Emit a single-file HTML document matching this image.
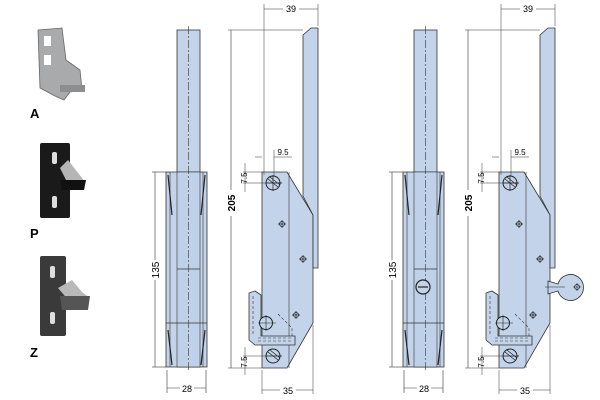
<!DOCTYPE html>
<html><head><style>
html,body{margin:0;padding:0;background:#fff;}
svg{display:block;}
text{font-family:"Liberation Sans",sans-serif;}
</style></head><body>
<svg width="600" height="400" viewBox="0 0 600 400" xmlns="http://www.w3.org/2000/svg">
<defs>
<g id="side">
  <!-- rod -->
  <rect x="177" y="30" width="23" height="337" fill="#c3d4ea" stroke="#333" stroke-width="0.8"/>
  <!-- housing -->
  <path d="M166,172 H207 V367 H166 Z" fill="#c3d4ea" stroke="#333" stroke-width="0.8"/>
  <rect x="177" y="172" width="23" height="195" fill="#bfd1e8" stroke="#333" stroke-width="0.6"/>
  <line x1="170" y1="172" x2="170" y2="367" stroke="#333" stroke-width="0.6"/>
  <line x1="203" y1="172" x2="203" y2="367" stroke="#333" stroke-width="0.6"/>
  <path d="M168,175 L172,215 M205,175 L201,215 M168,330 L172,365 M205,330 L201,365" stroke="#222" stroke-width="1.2"/>
  <line x1="166" y1="323" x2="207" y2="323" stroke="#333" stroke-width="0.8"/>
  <line x1="177" y1="269" x2="200" y2="269" stroke="#333" stroke-width="0.8"/>
  <line x1="188.5" y1="26" x2="188.5" y2="372" stroke="#333" stroke-width="0.6" stroke-dasharray="8,2,2,2"/>
  <!-- dim 135 -->
  <line x1="155" y1="172" x2="155" y2="367" stroke="#333" stroke-width="0.6"/>
  <line x1="152" y1="172" x2="166" y2="172" stroke="#333" stroke-width="0.6"/>
  <line x1="152" y1="367" x2="166" y2="367" stroke="#333" stroke-width="0.6"/>
  <rect x="150" y="260" width="10" height="20" fill="#fff"/>
  <text x="159" y="270" font-size="10" text-anchor="middle" transform="rotate(-90 159 270)">135</text>
  <!-- dim 28 -->
  <line x1="167" y1="370" x2="167" y2="393" stroke="#333" stroke-width="0.6"/>
  <line x1="206" y1="370" x2="206" y2="393" stroke="#333" stroke-width="0.6"/>
  <line x1="167" y1="388" x2="206" y2="388" stroke="#333" stroke-width="0.6"/>
  <rect x="180" y="382" width="14" height="11" fill="#fff"/>
  <text x="187" y="392" font-size="9" text-anchor="middle">28</text>
  <!-- plate -->
  <path d="M262,172 H287 L313,215 V323 L287,368 H262 Z" fill="#c3d4ea" stroke="#333" stroke-width="0.8"/>
  <line x1="289" y1="172" x2="289" y2="368" stroke="#333" stroke-width="0.6"/>
  <!-- arm -->
  <path d="M303,35 L311,28 H318 V268 H313 V215 L303,196 Z" fill="#c3d4ea" stroke="#333" stroke-width="0.8"/>
  <!-- hook -->
  <path d="M249,293 L255,291 L261,295 V336 H295 V345 H255 L249,340 Z" fill="#c3d4ea" stroke="#333" stroke-width="0.8"/>
  <path d="M253,296 V336 M258,338 H292 M258,341 H292 M278,314 L292,328 V336" stroke="#333" stroke-width="0.6" stroke-dasharray="3,2" fill="none"/>
  <!-- holes -->
  <circle cx="273" cy="183" r="7" fill="#c3d4ea" stroke="#222" stroke-width="1"/>
  <path d="M268,179 L278,187 M270,177 L280,185 M266,183 H282 M273,175 V191" stroke="#222" stroke-width="0.7"/>
  <circle cx="273" cy="356" r="7" fill="#c3d4ea" stroke="#222" stroke-width="1"/>
  <path d="M268,352 L278,360 M270,350 L280,358 M266,356 H282" stroke="#222" stroke-width="0.7"/>
  <circle cx="266" cy="323" r="6.5" fill="#c3d4ea" stroke="#222" stroke-width="1"/>
  <path d="M258,323 H276 M266,315 V331" stroke="#222" stroke-width="0.6"/>
  <g stroke="#222" stroke-width="0.7" fill="none">
    <circle cx="282" cy="224" r="2.5"/><path d="M278,224 H286 M282,220 V228"/>
    <circle cx="303" cy="259" r="2.5"/><path d="M299,259 H307 M303,255 V263"/>
    <circle cx="296" cy="315" r="2.5"/><path d="M292,315 H300 M296,311 V319"/>
  </g>
  <!-- dim 205 -->
  <line x1="231" y1="30" x2="231" y2="368" stroke="#333" stroke-width="0.6"/>
  <line x1="228" y1="30" x2="303" y2="30" stroke="#333" stroke-width="0.5"/>
  <line x1="228" y1="368" x2="262" y2="368" stroke="#333" stroke-width="0.5"/>
  <rect x="225" y="190" width="12" height="26" fill="#fff"/>
  <text x="235" y="203" font-size="10" font-weight="bold" text-anchor="middle" transform="rotate(-90 235 203)">205</text>
  <!-- dim 39 -->
  <line x1="264" y1="4" x2="264" y2="175" stroke="#333" stroke-width="0.5"/>
  <line x1="318" y1="4" x2="318" y2="26" stroke="#333" stroke-width="0.5"/>
  <line x1="264" y1="9" x2="318" y2="9" stroke="#333" stroke-width="0.6"/>
  <rect x="283" y="3" width="16" height="11" fill="#fff"/>
  <text x="291" y="12" font-size="9" text-anchor="middle">39</text>
  <!-- dim 9.5 -->
  <line x1="274" y1="150" x2="274" y2="176" stroke="#333" stroke-width="0.5"/>
  <line x1="255" y1="157" x2="262" y2="157" stroke="#333" stroke-width="0.5"/>
  <line x1="274" y1="157" x2="292" y2="157" stroke="#333" stroke-width="0.5"/>
  <text x="283" y="155" font-size="8" text-anchor="middle">9.5</text>
  <!-- dim 7.5 top -->
  <line x1="245" y1="163" x2="245" y2="192" stroke="#333" stroke-width="0.5"/>
  <line x1="243" y1="172" x2="262" y2="172" stroke="#333" stroke-width="0.5"/>
  <line x1="243" y1="183" x2="282" y2="183" stroke="#333" stroke-width="0.5"/>
  <text x="247" y="178" font-size="8" text-anchor="middle" transform="rotate(-90 247 178)">7.5</text>
  <!-- dim 7.5 bottom -->
  <line x1="245" y1="347" x2="245" y2="375" stroke="#333" stroke-width="0.5"/>
  <line x1="243" y1="356" x2="266" y2="356" stroke="#333" stroke-width="0.5"/>
  <text x="247" y="362" font-size="8" text-anchor="middle" transform="rotate(-90 247 362)">7.5</text>
  <!-- dim 35 -->
  <line x1="262" y1="370" x2="262" y2="394" stroke="#333" stroke-width="0.5"/>
  <line x1="313" y1="325" x2="313" y2="394" stroke="#333" stroke-width="0.5"/>
  <line x1="262" y1="390" x2="313" y2="390" stroke="#333" stroke-width="0.6"/>
  <rect x="280" y="384" width="16" height="11" fill="#fff"/>
  <text x="288" y="394" font-size="9" text-anchor="middle">35</text>
</g>
</defs>
<use href="#side"/>
<g transform="translate(237,0)">
  <use href="#side"/>
</g>
<!-- right variant extras -->
<circle cx="423" cy="287" r="7" fill="#c3d4ea" stroke="#222" stroke-width="1.2"/>
<path d="M418,287 H428" stroke="#222" stroke-width="1.2"/>
<path d="M548,281 L558,284 A13,13 0 1 1 558,291 L548,294 Z" fill="#c3d4ea" stroke="#333" stroke-width="0.8"/>
<circle cx="577" cy="287" r="2.5" fill="none" stroke="#222" stroke-width="0.7"/>
<path d="M573,287 H581 M577,283 V291 M545,287 H565" stroke="#222" stroke-width="0.6"/>
<!-- photos -->
<g>
  <path d="M38,30 L62,28 L66,60 L80,70 L82,90 L70,92 L64,100 L55,96 L40,88 Z" fill="#a9aaab" stroke="#666" stroke-width="0.8"/>
  <rect x="44" y="36" width="7" height="10" fill="#fff"/><rect x="44" y="55" width="7" height="10" fill="#fff"/>
  <path d="M60,85 L85,85 L85,92 L60,92 Z" fill="#8d8e8f"/>
  <text x="30" y="118" font-size="13" font-weight="bold">A</text>
  <rect x="40" y="143" width="30" height="75" rx="2" fill="#1a1a1a"/>
  <rect x="52" y="152" width="5" height="12" rx="2" fill="#ddd"/><rect x="52" y="196" width="5" height="12" rx="2" fill="#ddd"/>
  <path d="M60,168 L68,160 L82,178 L85,182 L68,184 Z" fill="#b5b5b5"/>
  <path d="M60,180 L86,180 L84,190 L62,190 Z" fill="#111"/>
  <text x="30" y="238" font-size="13" font-weight="bold">P</text>
  <rect x="40" y="256" width="26" height="80" rx="2" fill="#3a3a3a"/>
  <rect x="50" y="266" width="5" height="12" rx="2" fill="#ddd"/><rect x="50" y="312" width="5" height="12" rx="2" fill="#ddd"/>
  <path d="M58,288 L72,280 L82,292 L90,298 L70,302 Z" fill="#b9b9b9"/>
  <path d="M60,296 L90,296 L88,310 L62,310 Z" fill="#555"/>
  <text x="30" y="357" font-size="13" font-weight="bold">Z</text>
</g>
</svg>
</body></html>
